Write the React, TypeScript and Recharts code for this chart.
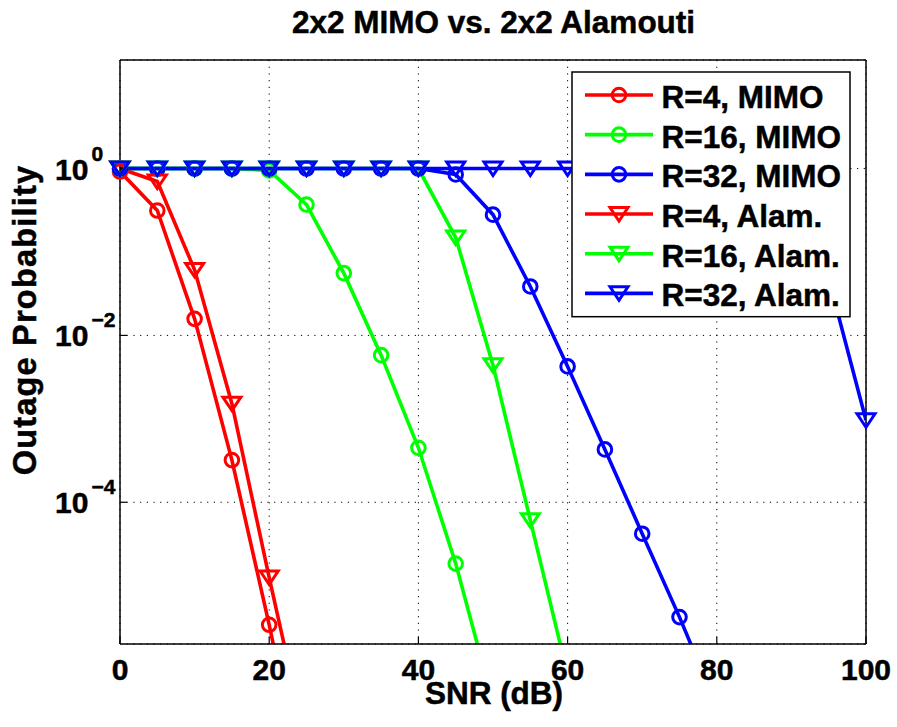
import React from "react";
import { LineChart, Line, XAxis, YAxis, CartesianGrid } from "recharts";

const SNR = [0, 5, 10, 15, 20, 25, 30, 35, 40, 45, 50, 55, 60, 65, 70, 75, 80, 85, 90, 95, 100];

const R4_MIMO = [0.92, 0.314, 0.0158, 3.2e-4, 3.4e-6, 2.5e-8, null, null, null, null, null, null, null, null, null, null, null, null, null, null, null];
const R16_MIMO = [1, 1, 1, 1, 0.95, 0.37, 0.0557, 5.8e-3, 4.5e-4, 1.84e-5, 4e-7, null, null, null, null, null, null, null, null, null, null];
const R32_MIMO = [1, 1, 1, 1, 1, 1, 1, 1, 1, 0.85, 0.28, 0.0386, 4.25e-3, 4.3e-4, 4.2e-5, 4.2e-6, 3.6e-7, null, null, null, null];
const R4_ALAM = [1, 0.7, 0.061, 1.52e-3, 1.25e-5, 1.25e-7, null, null, null, null, null, null, null, null, null, null, null, null, null, null, null];
const R16_ALAM = [1, 1, 1, 1, 1, 1, 1, 1, 1, 0.149, 4.4e-3, 6.1e-5, 8.6e-7, null, null, null, null, null, null, null, null];
const R32_ALAM = [1, 1, 1, 1, 1, 1, 1, 1, 1, 1, 1, 1, 1, 1, 1, 1, 1, 1, 0.6, 0.048, 9.6e-4];

const X_TICKS = [0, 20, 40, 60, 80, 100];
const Y_TICKS = [1e-4, 1e-2, 1];
const Y_DOMAIN: [number, number] = [2e-6, 20];

const SERIES = [
  { key: "r4m", name: "R=4, MIMO", color: "#ff0000", shape: "circle", values: R4_MIMO },
  { key: "r16m", name: "R=16, MIMO", color: "#00ff00", shape: "circle", values: R16_MIMO },
  { key: "r32m", name: "R=32, MIMO", color: "#0000ff", shape: "circle", values: R32_MIMO },
  { key: "r4a", name: "R=4, Alam.", color: "#ff0000", shape: "tri", values: R4_ALAM },
  { key: "r16a", name: "R=16, Alam.", color: "#00ff00", shape: "tri", values: R16_ALAM },
  { key: "r32a", name: "R=32, Alam.", color: "#0000ff", shape: "tri", values: R32_ALAM },
];

const data = SNR.map((snr, i) => {
  const row: Record<string, number | null> = { snr };
  SERIES.forEach((s) => {
    row[s.key] = s.values[i];
  });
  return row;
});

const FONT = "'Liberation Sans', Arial, Helvetica, sans-serif";
// a hair of outline so the bold text weighs like the MATLAB export
const heavy = { stroke: "#000", strokeWidth: 0.5 };

function Marker({ x, y, color, shape }: { x: number; y: number; color: string; shape: string }) {
  if (shape === "circle") {
    return <circle cx={x} cy={y} r={6.8} fill="none" stroke={color} strokeWidth={3} />;
  }
  return (
    <path
      d={`M${x - 9},${y - 6.5} L${x + 9},${y - 6.5} L${x},${y + 7} Z`}
      fill="none"
      stroke={color}
      strokeWidth={3}
      strokeLinejoin="miter"
    />
  );
}

function makeDot(key: string, color: string, shape: string) {
  return (props: any) => {
    const { cx, cy, index, payload } = props;
    const v = payload ? payload[key] : null;
    const k = `${key}-dot-${index}`;
    if (cx == null || cy == null || v == null || v < Y_DOMAIN[0] || v > Y_DOMAIN[1]) return <g key={k} />;
    return (
      <g key={k}>
        <Marker x={cx} y={cy} color={color} shape={shape} />
      </g>
    );
  };
}

function XTick({ x, y, payload }: any) {
  return (
    <text x={x} y={y + 36} textAnchor="middle" fontFamily={FONT} fontWeight="bold" fontSize={30} fill="#000" {...heavy}>
      {payload.value}
    </text>
  );
}

function YTick({ x, y, payload }: any) {
  const exp = Math.round(Math.log10(payload.value));
  const expText = exp < 0 ? `\u2212${-exp}` : `${exp}`;
  return (
    <text x={x - 65} y={y + 11} fontFamily={FONT} fontWeight="bold" fontSize={30} fill="#000" {...heavy}>
      <tspan>10</tspan>
      <tspan dx={3} dy={-19} fontSize={21}>
        {expText}
      </tspan>
    </text>
  );
}

function Overlay() {
  const rowGap = 39.67;
  return (
    <svg
      width={897}
      height={727}
      style={{ position: "absolute", left: 0, top: 0, pointerEvents: "none" }}
    >
      <text x={493.5} y={33} textAnchor="middle" fontFamily={FONT} fontWeight="bold" fontSize={31.5} fill="#000" {...heavy}>
        2x2 MIMO vs. 2x2 Alamouti
      </text>
      <text x={494} y={704} textAnchor="middle" fontFamily={FONT} fontWeight="bold" fontSize={31.5} fill="#000" {...heavy}>
        SNR (dB)
      </text>
      <text
        transform="rotate(-90)"
        x={-320}
        y={36}
        textAnchor="middle"
        fontFamily={FONT}
        fontWeight="bold"
        fontSize={32.5}
        letterSpacing={1.2}
        fill="#000"
        {...heavy}
      >
        Outage Probability
      </text>
      <g>
        <rect x={572} y={72} width={278} height={244.7} fill="#fff" stroke="#000" strokeWidth={1.5} />
        {SERIES.map((s, i) => {
          const cy = 95 + i * rowGap;
          return (
            <g key={s.key}>
              <line x1={585} x2={653} y1={cy} y2={cy} stroke={s.color} strokeWidth={3.6} />
              <Marker x={619} y={cy} color={s.color} shape={s.shape} />
              <text x={661.5} y={cy + 13} fontFamily={FONT} fontWeight="bold" fontSize={31.5} fill="#000" {...heavy}>
                {s.name}
              </text>
            </g>
          );
        })}
      </g>
    </svg>
  );
}

export default function App() {
  React.useEffect(() => {
    document.body.style.margin = "0";
  }, []);
  const axisLine = { stroke: "#000", strokeWidth: 1.5 };
  const tickLine = { stroke: "#000", strokeWidth: 1.2 };
  return (
    <div style={{ position: "relative", width: 897, height: 727, background: "#fff" }}>
      <style>{`.recharts-line-dots { clip-path: none !important; }`}</style>
      <LineChart width={897} height={727} data={data} margin={{ top: 59, right: 30, bottom: 33, left: 20 }}>
        <CartesianGrid stroke="#000" strokeWidth={1} strokeDasharray="1.2 5.5" />
        <XAxis
          dataKey="snr"
          type="number"
          domain={[0, 100]}
          ticks={X_TICKS}
          height={50}
          allowDataOverflow
          axisLine={axisLine}
          tickLine={tickLine}
          tickSize={-7}
          tickMargin={7}
          tick={<XTick />}
          interval={0}
        />
        <XAxis
          xAxisId="top"
          orientation="top"
          type="number"
          domain={[0, 100]}
          ticks={X_TICKS}
          height={1}
          allowDataOverflow
          axisLine={axisLine}
          tickLine={tickLine}
          tickSize={-7}
          tick={false}
          interval={0}
        />
        <YAxis
          scale="log"
          type="number"
          domain={Y_DOMAIN}
          ticks={Y_TICKS}
          width={100}
          allowDataOverflow
          axisLine={axisLine}
          tickLine={tickLine}
          tickSize={-7}
          tickMargin={7}
          tick={<YTick />}
          interval={0}
        />
        <YAxis
          yAxisId="right"
          orientation="right"
          scale="log"
          type="number"
          domain={Y_DOMAIN}
          ticks={Y_TICKS}
          width={1}
          allowDataOverflow
          axisLine={axisLine}
          tickLine={tickLine}
          tickSize={-7}
          tick={false}
          interval={0}
        />
        {SERIES.map((s) => (
          <Line
            key={s.key}
            type="linear"
            dataKey={s.key}
            name={s.name}
            stroke={s.color}
            strokeWidth={3.6}
            dot={makeDot(s.key, s.color, s.shape)}
            activeDot={false}
            connectNulls={false}
            isAnimationActive={false}
          />
        ))}
      </LineChart>
      <Overlay />
    </div>
  );
}
